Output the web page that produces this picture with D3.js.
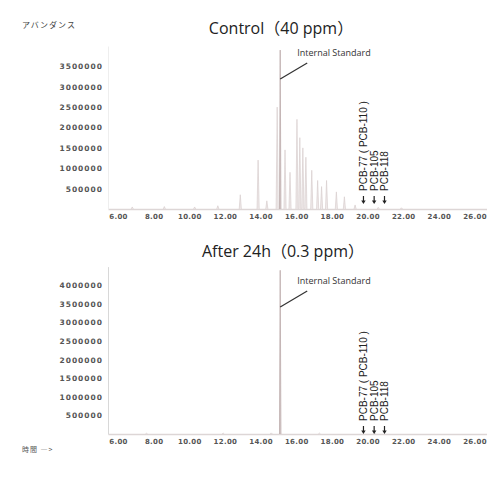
<!DOCTYPE html>
<html>
<head>
<meta charset="utf-8">
<script src="https://cdn.jsdelivr.net/npm/d3@7"></script>
<style>
  body { margin: 0; background: #fff; }
  text { font-family: "DejaVu Sans", sans-serif; }
</style>
</head>
<body>
<div id="viz"></div>
<script>
//-------Data----------------------------------
var xTicks = [6, 8, 10, 12, 14, 16, 18, 20, 22, 24, 26];
var controlTicks = [500000, 1000000, 1500000, 2000000, 2500000, 3000000, 3500000];
var afterTicks = [500000, 1000000, 1500000, 2000000, 2500000, 3000000, 3500000, 4000000];

var controlTimes = [6.8, 8.6, 10.3, 11.6, 12.86, 13.86, 14.35, 14.93, 15.37, 15.65, 16.04, 16.2, 16.37, 16.54, 16.87, 17.2, 17.42, 17.7, 18.25, 18.7, 19.3, 20.6, 21.9];
var controlHeights = [50000, 60000, 50000, 80000, 350000, 1200000, 200000, 2500000, 1450000, 900000, 2200000, 1750000, 1500000, 1270000, 950000, 700000, 550000, 700000, 420000, 300000, 100000, 40000, 30000];

var afterTimes = [7.6, 11.9, 14.6, 17.3, 20.4];
var afterHeights = [20000, 25000, 30000, 25000, 20000];

var isTime = 15.1;
var controlIS = 3900000;
var afterIS = 4400000;

var pcbTimes = [19.77, 20.37, 20.95];
var pcbLabels = ["PCB-77 ( PCB-110 )", "PCB-105", "PCB-118"];

//---------------------------------
var width = 487,
    height = 481;

var svg = d3.select("#viz")
  .append("svg")
    .attr("width", width)
    .attr("height", height);

svg.append("text")
    .attr("x", 22).attr("y", 28)
    .style("font-family", "'Noto Sans CJK JP'")
    .style("font-size", "8px")
    .style("letter-spacing", "1px")
    .style("fill", "#444")
    .text("アバンダンス");

svg.append("text")
    .attr("x", 22).attr("y", 452)
    .style("font-family", "'Noto Sans CJK JP'")
    .style("font-size", "7px")
    .style("letter-spacing", "1px")
    .style("fill", "#555")
    .text("時間 ―>");

function drawPanel(opts) {
    var xScale = d3.scaleLinear()
        .domain([5.44, 26.7])
        .range([108, 487]);

    var yScale = d3.scaleLinear()
        .domain([0, opts.yMax])
        .range([opts.baseY, opts.topY]);

    var g = svg.append("g");

    // title
    g.append("text")
        .attr("x", opts.titleX).attr("y", opts.titleY)
        .attr("text-anchor", "middle")
        .style("font-family", "'Open Sans', 'Noto Sans CJK JP'")
        .style("font-size", "16px")
        .style("fill", "#222")
        .text(opts.title);

    // axes
    var xAxis = d3.axisBottom(xScale)
        .tickValues(xTicks)
        .tickSize(0)
        .tickPadding(5)
        .tickFormat(d3.format(".2f"));

    var gX = g.append("g")
        .attr("transform", "translate(0," + opts.baseY + ")")
        .call(xAxis);
    gX.select(".domain").attr("stroke", "#ddd6d6").attr("stroke-width", 1.5);
    gX.selectAll("text")
        .style("font-size", "7px")
        .style("font-weight", "bold")
        .style("letter-spacing", "0.3px")
        .style("fill", "#555");

    var yAxis = d3.axisLeft(yScale)
        .tickValues(opts.ticks)
        .tickSize(0)
        .tickPadding(5)
        .tickFormat(d3.format("d"));

    var gY = g.append("g")
        .attr("transform", "translate(108,0)")
        .call(yAxis);
    gY.select(".domain").attr("stroke", opts.axisColor).attr("stroke-width", 1);
    gY.selectAll("text")
        .style("font-size", "7.5px")
        .style("font-weight", "bold")
        .style("letter-spacing", "1px")
        .style("fill", "#555");

    // peaks
    var peakLine = d3.line()
        .x(function(d) { return xScale(d[0]); })
        .y(function(d) { return yScale(d[1]); });

    var peaks = opts.times.map(function(t, i) { return [t, opts.heights[i]]; });

    g.append("g").selectAll("path")
        .data(peaks)
        .enter()
        .append("path")
        .attr("d", function(d) {
            return peakLine([[d[0] - 0.06, 0], [d[0], d[1]], [d[0] + 0.06, 0]]);
        })
        .style("fill", "#efe9e9")
        .style("stroke", "#d9cfcf")
        .style("stroke-width", 0.7);

    // internal standard
    g.append("path")
        .attr("d", peakLine([[isTime - 0.04, 0], [isTime, opts.isHeight], [isTime + 0.04, 0]]))
        .style("fill", "#d8cbcb")
        .style("stroke", "#c2b2b2")
        .style("stroke-width", 0.9);

    var isX = xScale(isTime);
    g.append("line")
        .attr("x1", isX).attr("y1", opts.leaderY)
        .attr("x2", isX + 27).attr("y2", opts.leaderY - 16)
        .style("stroke", "#333")
        .style("stroke-width", 1.3);

    g.append("text")
        .attr("x", isX + 17).attr("y", opts.leaderY - 23)
        .style("font-family", "'Open Sans'")
        .style("font-size", "9px")
        .style("fill", "#333")
        .text("Internal Standard");

    // PCB arrows and labels
    var arrows = g.append("g").selectAll("g")
        .data(pcbTimes)
        .enter()
        .append("g")
        .attr("transform", function(d) { return "translate(" + xScale(d) + "," + opts.arrowY + ")"; });

    arrows.append("line")
        .attr("x1", 0).attr("y1", -6)
        .attr("x2", 0).attr("y2", 0)
        .style("stroke", "#222")
        .style("stroke-width", 1.2);

    arrows.append("path")
        .attr("d", "M-2.2,-1.5L2.2,-1.5L0,2Z")
        .style("fill", "#222");

    g.append("g").selectAll("text")
        .data(pcbTimes)
        .enter()
        .append("text")
        .attr("transform", function(d) { return "translate(" + (xScale(d) + 4) + "," + (opts.arrowY - 11) + ") rotate(-90)"; })
        .style("font-family", "'Liberation Sans'")
        .style("font-size", "10px")
        .style("fill", "#222")
        .text(function(d, i) { return pcbLabels[i]; });
}

drawPanel({
    title: "Control（40 ppm）",
    titleX: 281, titleY: 34,
    baseY: 209, topY: 46, yMax: 4000000,
    ticks: controlTicks,
    times: controlTimes, heights: controlHeights,
    isHeight: controlIS,
    leaderY: 79,
    arrowY: 202,
    axisColor: "#eee"
});

drawPanel({
    title: "After 24h（0.3 ppm）",
    titleX: 283, titleY: 257,
    baseY: 434, topY: 266.6, yMax: 4500000,
    ticks: afterTicks,
    times: afterTimes, heights: afterHeights,
    isHeight: afterIS,
    leaderY: 307,
    arrowY: 432,
    axisColor: "#d8d8d8"
});
</script>
</body>
</html>
